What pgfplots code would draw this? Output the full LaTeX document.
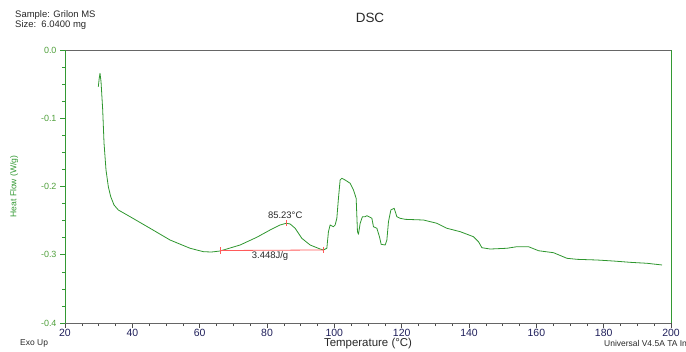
\documentclass[border=0pt]{standalone}
\usepackage{fontspec}
\setmainfont{Liberation Sans}
\usepackage{pgfplots}
\pgfplotsset{compat=1.18}
\definecolor{curve}{RGB}{46,150,46}
\definecolor{axgreen}{RGB}{51,153,51}
\definecolor{ticklab}{RGB}{80,160,60}
\definecolor{navy}{RGB}{30,30,90}
\definecolor{annred}{RGB}{255,90,90}
\definecolor{txt}{RGB}{40,40,40}
\newcommand{\fs}[1]{\fontsize{#1}{#1}\selectfont}
\begin{document}
\begin{tikzpicture}[x=1bp,y=1bp]
\useasboundingbox (0,0) rectangle (686,351);
\node[anchor=north west, align=left, font=\fs{9.5}, text=txt, inner sep=0pt] at (15,341) {Sample: Grilon MS\\[0.5pt]Size:\ \ 6.0400 mg};
\node[font=\fs{13.5}, text=txt] at (370,333) {DSC};
\node[font=\fs{8.5}, text=txt, anchor=west, inner sep=0pt] at (20,8) {Exo Up};
\node[font=\fs{8.5}, text=txt, anchor=west, inner sep=0pt] at (604,8) {Universal V4.5A TA Instruments};
\begin{axis}[
  at={(65bp,28bp)}, anchor=south west,
  scale only axis, width=606bp, height=273bp,
  xmin=20, xmax=200, ymin=-0.4, ymax=0,
  xtick={20,40,...,200}, minor x tick num=3,
  ytick={-0.4,-0.3,-0.2,-0.1,0}, minor y tick num=3,
  xtick pos=left, ytick pos=left,
  tick align=outside,
  major tick length=5bp, minor tick length=3bp,
  separate axis lines,
  every outer x axis line/.append style={black!60, line width=0.8bp},
  every outer y axis line/.append style={axgreen, line width=0.8bp},
  x tick style={black!70, line width=0.6bp},
  y tick style={axgreen, line width=0.6bp},
  /pgf/number format/assume math mode=true,
  yticklabel style={text=ticklab, font=\fs{9}, /pgf/number format/.cd, fixed, fixed zerofill, precision=1},
  xticklabel style={text=navy, font=\fs{10.5}, inner sep=1pt},
  ylabel={Heat Flow (W/g)},
  ylabel style={at={(axis description cs:-0.084,0.5)}, anchor=center, rotate=0, text=axgreen, font=\fs{8.6}},
  xlabel={Temperature (°C)},
  xlabel style={at={(axis description cs:0.5,-0.077)}, anchor=center, text=txt, font=\fs{11.5}},
  clip=false,
]
\addplot[curve, line width=0.8bp, line join=round, no marks] coordinates {
(29.90,-0.0538) (30.15,-0.0420) (30.40,-0.0341) (30.70,-0.0464) (31.20,-0.0879)
(31.59,-0.1363) (32.18,-0.1758) (32.87,-0.2003) (33.58,-0.2149) (34.56,-0.2271)
(35.84,-0.2344) (39.32,-0.2442) (45.26,-0.2612) (51.20,-0.2784) (57.15,-0.2905)
(61.10,-0.2955) (63.50,-0.2960) (66.06,-0.2945) (72.01,-0.2857) (76.97,-0.2744)
(80.92,-0.2637) (83.89,-0.2564) (85.68,-0.2539) (86.87,-0.2549) (88.36,-0.2612)
(90.34,-0.2759) (92.81,-0.2857) (95.78,-0.2916) (96.76,-0.2930) (97.77,-0.2905)
(98.25,-0.2662) (98.75,-0.2564) (99.73,-0.2589) (100.24,-0.2564) (100.74,-0.2466)
(101.22,-0.2173) (101.72,-0.1905) (102.23,-0.1880) (103.21,-0.1905) (104.70,-0.1953)
(105.68,-0.2051) (106.48,-0.2173) (106.87,-0.2662) (107.16,-0.2700) (107.67,-0.2539)
(108.35,-0.2442) (109.16,-0.2442) (109.66,-0.2428) (110.64,-0.2451) (111.15,-0.2466)
(111.62,-0.2589) (112.63,-0.2612) (113.40,-0.2736) (113.91,-0.2847) (115.10,-0.2857)
(115.60,-0.2784) (116.08,-0.2516) (116.79,-0.2344) (117.77,-0.2319) (118.57,-0.2442)
(119.55,-0.2466) (121.04,-0.2481) (126.48,-0.2491) (130.46,-0.2539) (133.43,-0.2612)
(137.39,-0.2662) (141.34,-0.2736) (142.82,-0.2809) (143.83,-0.2897) (146.30,-0.2916)
(151.26,-0.2905) (154.23,-0.2882) (157.68,-0.2882) (160.65,-0.2941) (165.11,-0.2970)
(169.09,-0.3052) (172.07,-0.3067) (178.01,-0.3077) (182.94,-0.3092) (187.91,-0.3111)
(192.87,-0.3125) (197.33,-0.3150)
};
\addplot[annred, line width=0.8bp, no marks] coordinates {(66.27,-0.2938) (96.76,-0.2930)};
\addplot[annred, line width=0.8bp, no marks] coordinates {(66.27,-0.2893) (66.27,-0.2983)};
\addplot[annred, line width=0.8bp, no marks] coordinates {(96.76,-0.2885) (96.76,-0.2975)};
\addplot[annred, line width=0.8bp, no marks] coordinates {(85.68,-0.2495) (85.68,-0.2585)};
\node[font=\fs{9.5}, text=txt] at (axis cs:85.4,-0.2418) {85.23°C};
\node[font=\fs{9.5}, text=txt] at (axis cs:80.9,-0.3025) {3.448J/g};
\end{axis}
\end{tikzpicture}
\end{document}
